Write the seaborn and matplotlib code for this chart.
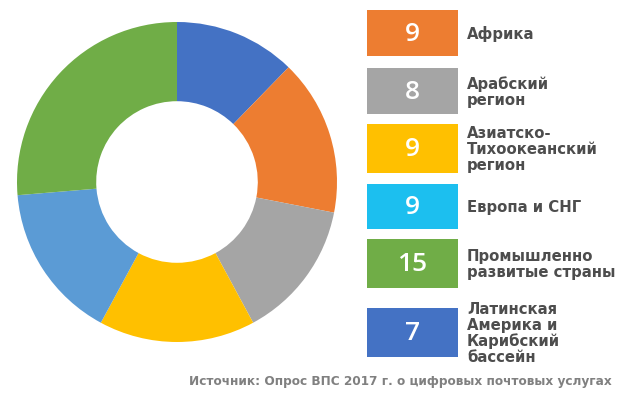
import matplotlib
matplotlib.use("Agg")
import matplotlib.pyplot as plt
from matplotlib.patches import Rectangle
import seaborn as sns

# Survey respondents by region
regions = [
    "Африка",
    "Арабский регион",
    "Азиатско-Тихоокеанский регион",
    "Европа и СНГ",
    "Промышленно развитые страны",
    "Латинская Америка и Карибский бассейн",
]
label_lines = [
    "Африка",
    "Арабский\nрегион",
    "Азиатско-\nТихоокеанский\nрегион",
    "Европа и СНГ",
    "Промышленно\nразвитые страны",
    "Латинская\nАмерика и\nКарибский\nбассейн",
]
counts = [9, 8, 9, 9, 15, 7]
source = "Источник: Опрос ВПС 2017 г. о цифровых почтовых услугах"

# Colours: ring slices and legend tiles
ring_colors = ["#ED7D31", "#A5A5A5", "#FFC000", "#5B9BD5", "#70AD47", "#4472C4"]
tile_colors = ["#ED7D31", "#A5A5A5", "#FFC000", "#1CBFEF", "#70AD47", "#4472C4"]

# Ring starts at twelve o'clock with the last region, then runs clockwise
ring_order = [5, 0, 1, 2, 3, 4]

sns.set_theme(style="white")
plt.rcParams["font.family"] = ["DejaVu Sans"]

W, H = 633, 394
fig = plt.figure(figsize=(W / 100, H / 100), dpi=100)
fig.patch.set_facecolor("white")

# Donut chart
cx, cy, r = 177, 182, 160
ax = fig.add_axes([(cx - r) / W, (H - cy - r) / H, 2 * r / W, 2 * r / H])
ax.pie(
    [counts[i] for i in ring_order],
    colors=[ring_colors[i] for i in ring_order],
    startangle=90,
    counterclock=False,
    radius=1.0,
    wedgeprops=dict(width=0.495, linewidth=0),
)
ax.set_xlim(-1, 1)
ax.set_ylim(-1, 1)
ax.set_aspect("equal")
ax.axis("off")

# Legend tiles with counts, laid out in pixel coordinates
lax = fig.add_axes([0, 0, 1, 1])
lax.set_xlim(0, W)
lax.set_ylim(H, 0)
lax.axis("off")

tile_x0, tile_x1 = 367, 458
tile_tops = [10, 68, 124, 184, 239, 308]
tile_bottoms = [56, 114, 173, 229, 288, 357]
text_x = 467

for i, (n, lab) in enumerate(zip(counts, label_lines)):
    t, b = tile_tops[i], tile_bottoms[i]
    lax.add_patch(Rectangle((tile_x0, t), tile_x1 - tile_x0, b - t,
                            facecolor=tile_colors[i], edgecolor="none"))
    mid = (t + b) / 2
    lax.text((tile_x0 + tile_x1) / 2, mid + 1, str(n), color="white",
             fontsize=19, fontweight="semibold", ha="center", va="center",
             family=["Open Sans", "DejaVu Sans"])
    lax.text(text_x, mid + 1, lab, color="#4D4D4D", fontsize=10.7,
             fontweight="bold", ha="left", va="center", linespacing=1.05)

lax.text(400, 381, source, color="#808080", fontsize=8.7, fontweight="bold",
         ha="center", va="center")

fig.savefig("out.png", dpi=100, facecolor="white")
